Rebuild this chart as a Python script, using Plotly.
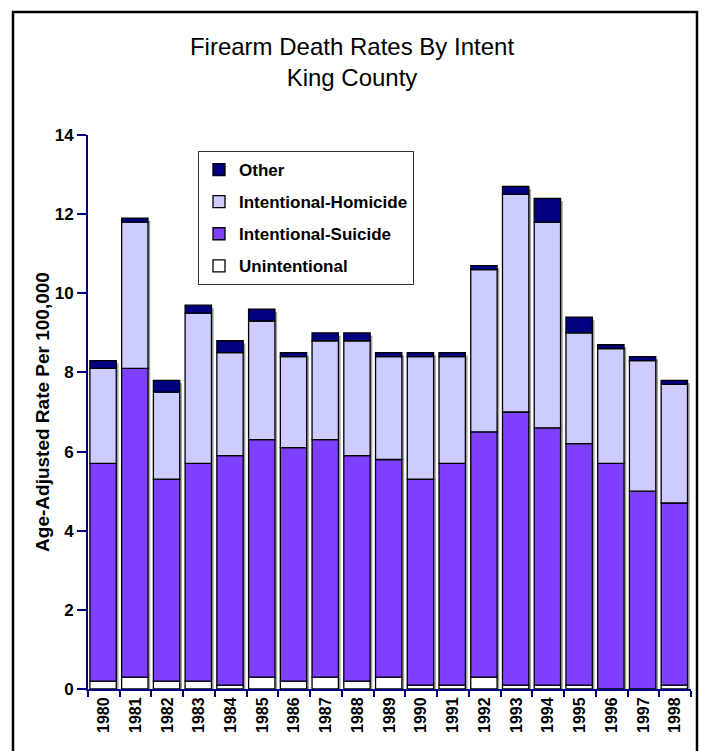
import plotly.graph_objects as go

# data (age-adjusted rate per 100,000)
years = [str(y) for y in range(1980, 1999)]
unintentional = [0.2, 0.3, 0.2, 0.2, 0.1, 0.3, 0.2, 0.3, 0.2, 0.3,
                 0.1, 0.1, 0.3, 0.1, 0.1, 0.1, 0.0, 0.0, 0.1]
suicide = [5.5, 7.8, 5.1, 5.5, 5.8, 6.0, 5.9, 6.0, 5.7, 5.5,
           5.2, 5.6, 6.2, 6.9, 6.5, 6.1, 5.7, 5.0, 4.6]
homicide = [2.4, 3.7, 2.2, 3.8, 2.6, 3.0, 2.3, 2.5, 2.9, 2.6,
            3.1, 2.7, 4.1, 5.5, 5.2, 2.8, 2.9, 3.3, 3.0]
other = [0.2, 0.1, 0.3, 0.2, 0.3, 0.3, 0.1, 0.2, 0.2, 0.1,
         0.1, 0.1, 0.1, 0.2, 0.6, 0.4, 0.1, 0.1, 0.1]

series = [
    ("Unintentional", unintentional, "#ffffff"),
    ("Intentional-Suicide", suicide, "#7f3fff"),
    ("Intentional-Homicide", homicide, "#ccccff"),
    ("Other", other, "#000080"),
]

totals = [sum(v) for v in zip(unintentional, suicide, homicide, other)]

# plot area in pixels, used to place the outer frame
L, R, T, B = 88, 13, 135, 62
W, H = 704, 751
pw, ph = W - L - R, H - T - B

fig = go.Figure()

# grey drop shadow behind each column
fig.add_trace(go.Bar(
    x=years, y=totals, base=[-0.07] * len(years),
    width=0.83, offset=-0.37,
    marker=dict(color="#a0a0a0", line=dict(width=0)),
    showlegend=False, hoverinfo="skip",
))

base = [0.0] * len(years)
for rank, (name, vals, col) in zip([4, 3, 2, 1], series):
    fig.add_trace(go.Bar(
        x=years, y=vals, base=list(base), name=name,
        width=0.83, offset=-0.44,
        marker=dict(color=col, line=dict(color="black", width=1.3)),
        legendgroup=name, legendrank=rank,
    ))
    base = [b + v for b, v in zip(base, vals)]

bold = dict(family="Liberation Sans, Arial", color="black", weight="bold")

fig.update_layout(
    width=W, height=H,
    barmode="overlay",
    paper_bgcolor="white", plot_bgcolor="white",
    margin=dict(l=L, r=R, t=T, b=B),
    font=dict(family="Liberation Sans, Arial", color="black"),
    title=dict(
        text="Firearm Death Rates By Intent<br>King County",
        x=0.5, xanchor="center", y=0.927, yanchor="top",
        font=dict(size=24, color="black"),
    ),
    legend=dict(
        x=(198 - L) / pw, y=(689 - 151) / ph, xanchor="left", yanchor="top",
        bgcolor="white", bordercolor="#333333", borderwidth=1,
        font=dict(size=17, **bold),
        traceorder="grouped", tracegroupgap=7,
        itemwidth=30,
    ),
    showlegend=True,
)

fig.update_xaxes(
    type="category", tickangle=-90,
    tickfont=dict(size=16, **bold),
    showline=True, linecolor="#000080", linewidth=2,
    ticks="outside", tickson="boundaries", tickcolor="#000080",
    ticklen=6, tickwidth=2, showgrid=False,
)

fig.update_yaxes(
    range=[0, 14], dtick=2,
    tickfont=dict(size=17, **bold),
    showline=True, linecolor="#000080", linewidth=2,
    ticks="outside", tickcolor="#000080", ticklen=9, tickwidth=2,
    showgrid=False, zeroline=False,
    title=dict(text="Age-Adjusted Rate Per 100,000",
               font=dict(size=19, **bold), standoff=0),
)

# outer frame of the chart
fig.add_shape(
    type="rect", xref="paper", yref="paper",
    x0=(13 - L) / pw, x1=(697 - L) / pw,
    y0=(689 - 770) / ph, y1=(689 - 12) / ph,
    line=dict(color="black", width=2.5), layer="below",
)

fig.write_html("out.html", config={"displayModeBar": False},
               post_script="document.body.style.margin='0';")
